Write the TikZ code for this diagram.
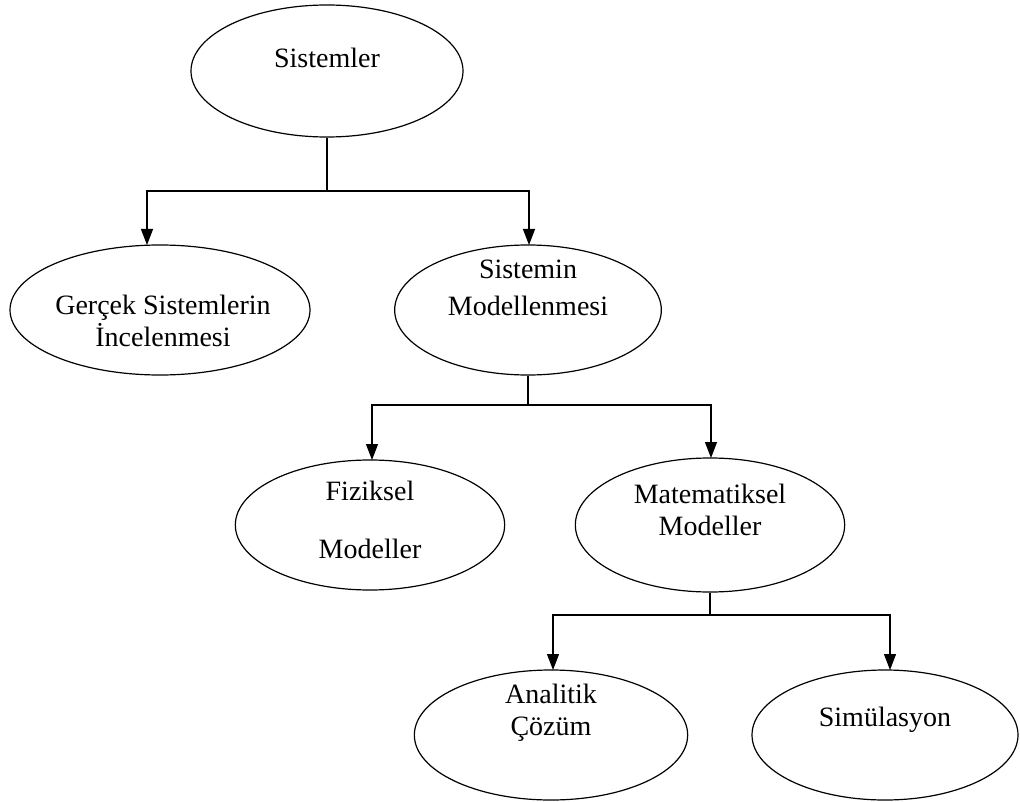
\documentclass[tikz,border=0pt]{standalone}
\usepackage{fontspec}
\setmainfont{Liberation Serif}
\usetikzlibrary{arrows.meta,shapes.geometric}
\begin{document}
\begin{tikzpicture}[x=0.75pt,y=-0.75pt,
  ell/.style={draw,ellipse,line width=0.9pt,inner sep=0pt},
  lbl/.style={anchor=base,inner sep=0pt,font=\fontsize{21}{24}\selectfont},
  conn/.style={line width=0.9pt},
  arr/.style={line width=0.9pt,-{Triangle[width=9pt,length=12pt]}}]
\useasboundingbox (0,0) rectangle (1020,802);
% ellipses
\node[ell,minimum width=204pt,minimum height=99pt] (e1) at (327,71) {};
\node[ell,minimum width=225pt,minimum height=97.5pt] (e2) at (160,310) {};
\node[ell,minimum width=200pt,minimum height=97.5pt] (e3) at (528,310) {};
\node[ell,minimum width=202pt,minimum height=97.5pt] (e4) at (370,525) {};
\node[ell,minimum width=202pt,minimum height=100.5pt] (e5) at (710,525) {};
\node[ell,minimum width=205pt,minimum height=97.5pt] (e6) at (551,735) {};
\node[ell,minimum width=199.5pt,minimum height=97.5pt] (e7) at (885,735) {};
% labels
\node[lbl] (t1) at (327,68) {Sistemler};
\node[lbl] (t2a) at (163,314) {Gerçek Sistemlerin};
\node[lbl] (t2b) at (163,346) {İncelenmesi};
\node[lbl] (t3a) at (528,278) {Sistemin};
\node[lbl] (t3b) at (528,315) {Modellenmesi};
\node[lbl] (t4a) at (370,500) {Fiziksel};
\node[lbl] (t4b) at (370,558) {Modeller};
\node[lbl] (t5a) at (710,503) {Matematiksel};
\node[lbl] (t5b) at (710,535) {Modeller};
\node[lbl] (t6a) at (551,703) {Analitik};
\node[lbl] (t6b) at (551,735) {Çözüm};
\node[lbl] (t7) at (885,726) {Simülasyon};
% connectors
\coordinate (j1) at (327,191);
\coordinate (a2) at (147,245);
\coordinate (a3) at (529,245);
\draw[conn] (e1.south) -- (j1);
\draw[arr] (j1) -| (a2);
\draw[arr] (j1) -| (a3);
\coordinate (j2) at (528,405);
\coordinate (a4) at (372,460);
\coordinate (a5) at (711,458);
\draw[conn] (e3.south) -- (j2);
\draw[arr] (j2) -| (a4);
\draw[arr] (j2) -| (a5);
\coordinate (j3) at (710,615);
\coordinate (a6) at (553,670);
\coordinate (a7) at (890,670);
\draw[conn] (e5.south) -- (j3);
\draw[arr] (j3) -| (a6);
\draw[arr] (j3) -| (a7);
\end{tikzpicture}
\end{document}
